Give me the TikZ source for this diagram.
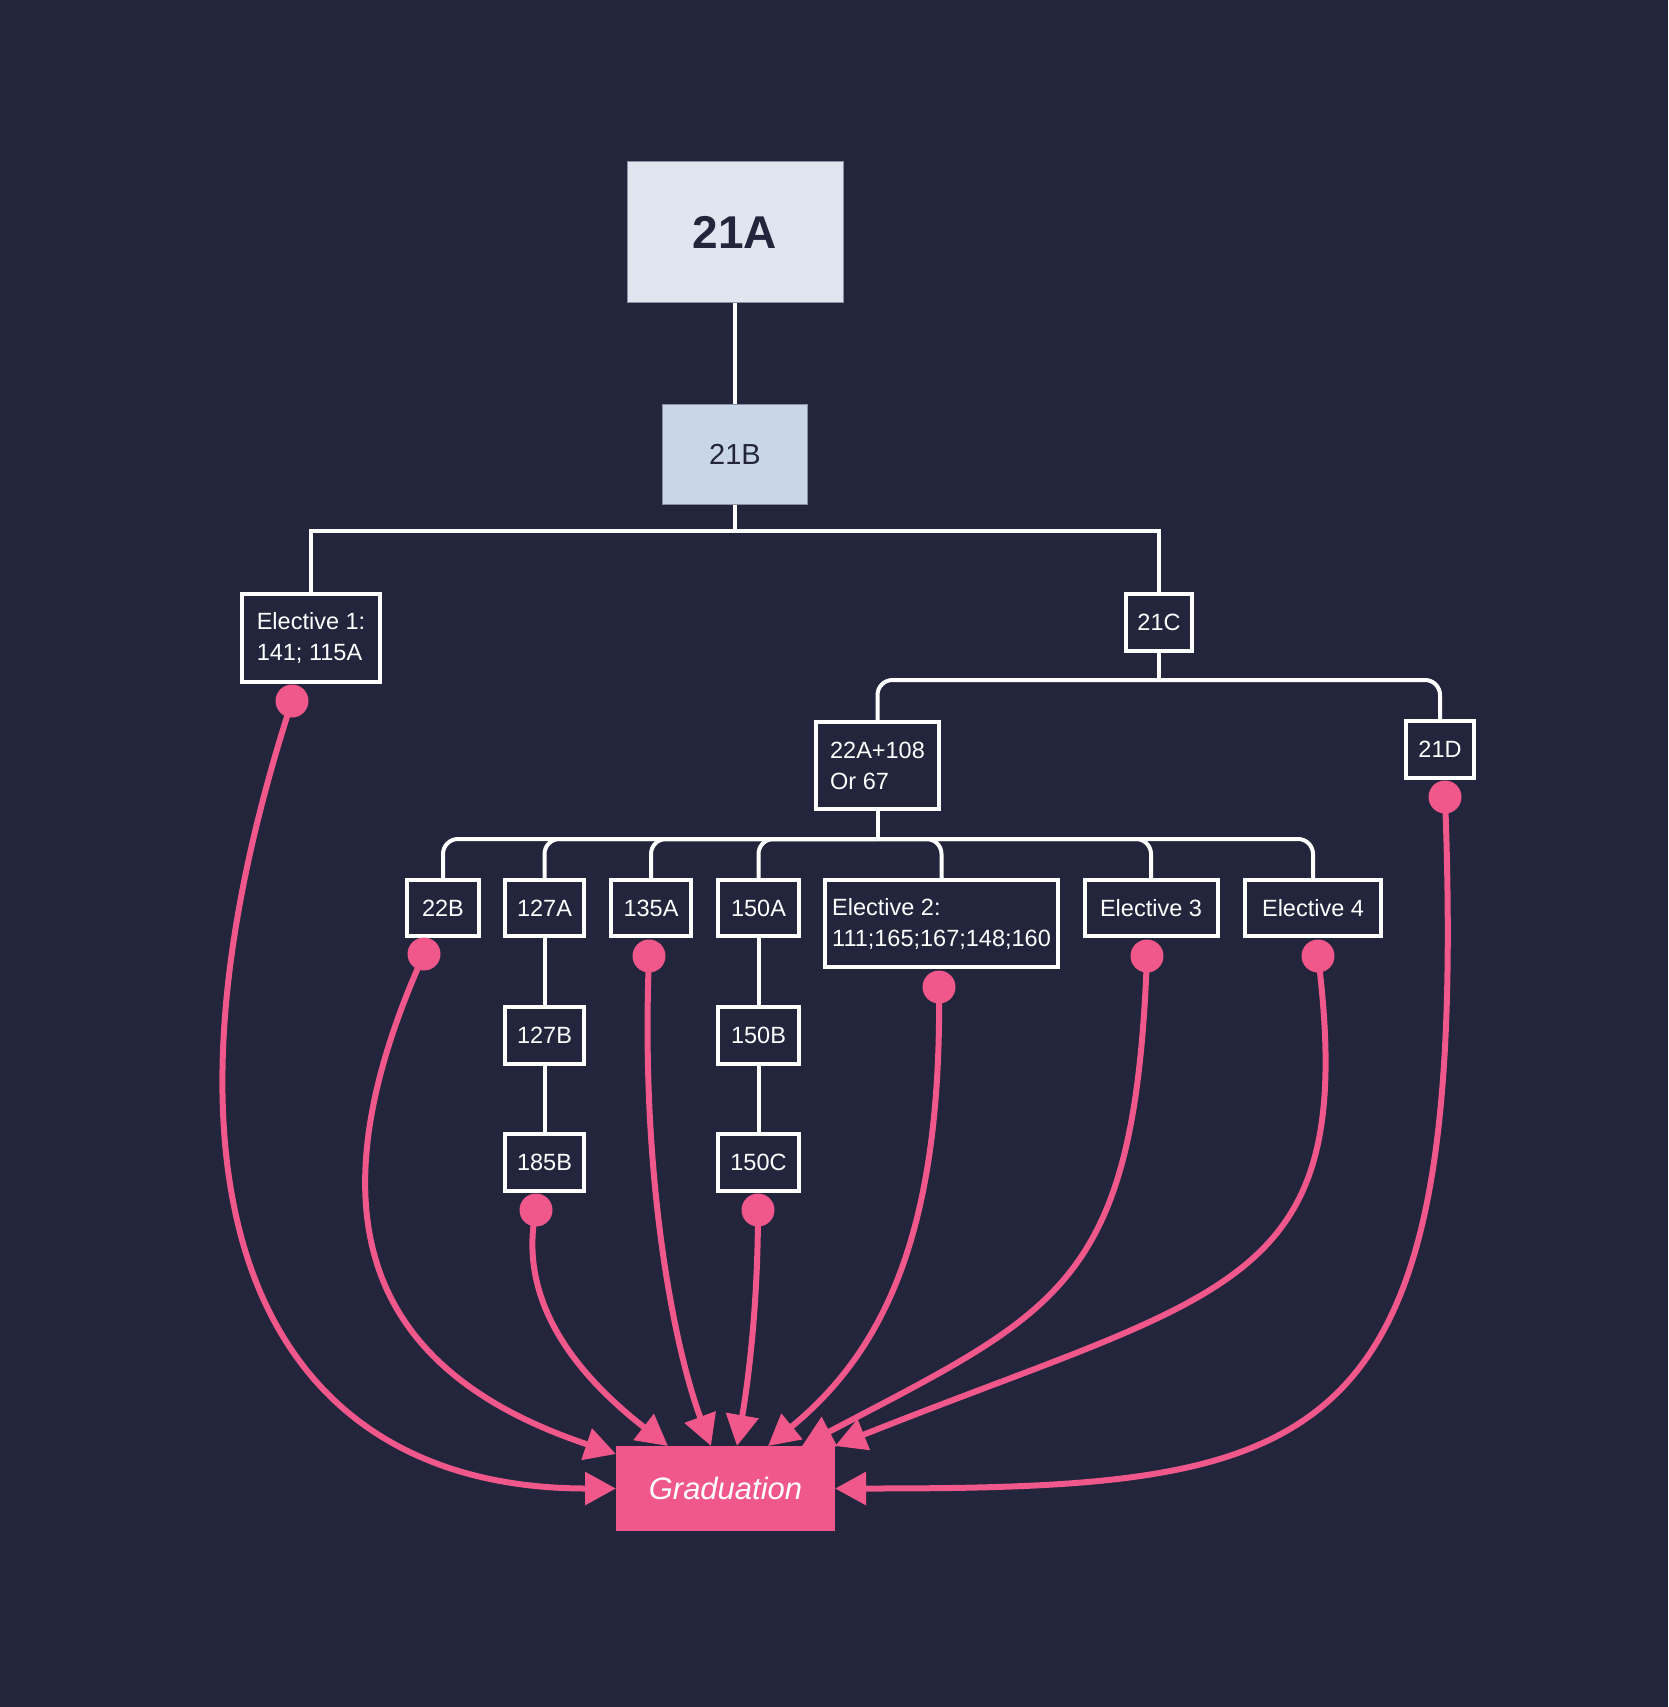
\documentclass[tikz,border=0pt]{standalone}
\usepackage{fontspec}
\setmainfont{Liberation Sans}
\usetikzlibrary{arrows.meta,calc}
\definecolor{bg}{HTML}{22253B}
\definecolor{boxA}{HTML}{E1E5EF}
\definecolor{boxB}{HTML}{C9D6EA}
\definecolor{pinkc}{HTML}{F0578A}
\definecolor{edgegray}{HTML}{8A90A2}
\tikzset{
  wbox/.style={draw=white, line width=4pt, fill=bg, text=white, inner sep=0pt,
    font=\fontsize{23.5pt}{31pt}\selectfont, align=left, minimum height=56pt},
  wline/.style={draw=white, line width=4pt},
  rline/.style={wline, rounded corners=15pt},
  pdot/.style={circle, fill=pinkc, minimum size=33pt, inner sep=0pt},
  pline/.style={draw=pinkc, line width=6pt, -{Triangle[length=31pt,width=32pt]}},
}
\begin{document}
\begin{tikzpicture}[x=1pt,y=-1pt]
\fill[bg] (0,0) rectangle (1668,1707);
\useasboundingbox (0,0) rectangle (1668,1707);

% top boxes
\node[draw=edgegray, line width=1pt, fill=boxA, text=bg, minimum width=216pt, minimum height=141pt,
      font=\bfseries\fontsize{46pt}{50pt}\selectfont] (a21) at (735,232) {21A};
\node[draw=edgegray, line width=1pt, fill=boxB, text=bg, minimum width=145pt, minimum height=100pt,
      font=\fontsize{29pt}{33pt}\selectfont] (b21) at (735,454) {21B};

% level nodes
\node[wbox, minimum width=138pt, minimum height=88pt] (e1) at (311,638) {Elective 1:\\141; 115A};
\node[wbox, minimum width=66pt, minimum height=57pt] (c21) at (1159,622.5) {21C};
\node[wbox, minimum width=123pt, minimum height=87pt] (a22) at (877.5,765.5) {22A+108\\Or 67};
\node[wbox, minimum width=68pt, minimum height=57pt] (d21) at (1440,749.5) {21D};

\node[wbox, minimum width=72pt] (b22) at (443,908) {22B};
\node[wbox, minimum width=79pt] (a127) at (544.5,908) {127A};
\node[wbox, minimum width=80pt] (a135) at (651,908) {135A};
\node[wbox, minimum width=81pt] (a150) at (758.5,908) {150A};
\node[wbox, minimum width=233pt, minimum height=87pt] (e2) at (941.5,923.5) {Elective 2:\\111;165;167;148;160};
\node[wbox, minimum width=133pt] (e3) at (1151,908) {Elective 3};
\node[wbox, minimum width=136pt] (e4) at (1313,908) {Elective 4};

\node[wbox, minimum width=79pt, minimum height=57pt] (b127) at (544.5,1035.5) {127B};
\node[wbox, minimum width=79pt, minimum height=57pt] (b185) at (544.5,1162.5) {185B};
\node[wbox, minimum width=81pt, minimum height=57pt] (b150) at (758.5,1035.5) {150B};
\node[wbox, minimum width=81pt, minimum height=57pt] (c150) at (758.5,1162.5) {150C};

\node[fill=pinkc, text=white, minimum width=219pt, minimum height=85pt, outer sep=0pt,
      font=\itshape\fontsize{31pt}{35pt}\selectfont] (grad) at (725.5,1488.5) {Graduation};

% white tree connectors
\draw[wline] (a21) -- (b21);
\draw[wline] (b21.south) -- ++(0,26) coordinate (j1);
\draw[wline] (j1) -| (e1.north);
\draw[wline] (j1) -| (c21.north);

\draw[wline] (c21.south) -- ++(0,27) coordinate (j2);
\draw[rline] (j2) -| (a22.north);
\draw[rline] (j2) -| (d21.north);

\draw[wline] (a22.south) -- ++(0,28) coordinate (j3);
\foreach \n in {b22,a127,a135,a150,e2,e3,e4}{
  \draw[rline] (j3) -| (\n.north);
}
\draw[wline] (a127) -- (b127);
\draw[wline] (b127) -- (b185);
\draw[wline] (a150) -- (b150);
\draw[wline] (b150) -- (c150);

% pink dots
\node[pdot] (p1) at (292,701) {};
\node[pdot] (p2) at (424,954) {};
\node[pdot] (p3) at (536,1210) {};
\node[pdot] (p4) at (649,956) {};
\node[pdot] (p5) at (758,1210) {};
\node[pdot] (p6) at (939,987) {};
\node[pdot] (p7) at (1147,956) {};
\node[pdot] (p8) at (1318,956) {};
\node[pdot] (p9) at (1445,797) {};

% pink curves
\draw[pline] (p1.center) .. controls +(-162,499) and +(-356,0) .. (grad.west);
\draw[pline] (p2.center) .. controls +(-124,276) and +(-236,-79) .. ($(grad.north west)+(0,8)$);
\draw[pline] (p3.center) .. controls +(-21,100) and +(-78,-61) .. ($(grad.north west)+(52,0)$);
\draw[pline] (p4.center) .. controls +(-9,224) and +(-36,-96) .. ($(grad.north west)+(95,0)$);
\draw[pline] (p5.center) .. controls +(0,110) and +(8,-46) .. ($(grad.north west)+(121,0)$);
\draw[pline] (p6.center) .. controls +(3,243) and +(117,-96) .. ($(grad.north west)+(152,0)$);
\draw[pline] (p7.center) .. controls +(-12,330) and +(258,-136) .. ($(grad.north west)+(186,0)$);
\draw[pline] (p8.center) .. controls +(42,334) and +(395,-157) .. (grad.north east);
\draw[pline] (p9.center) .. controls +(25,663) and +(495,0) .. (grad.east);
\end{tikzpicture}
\end{document}
